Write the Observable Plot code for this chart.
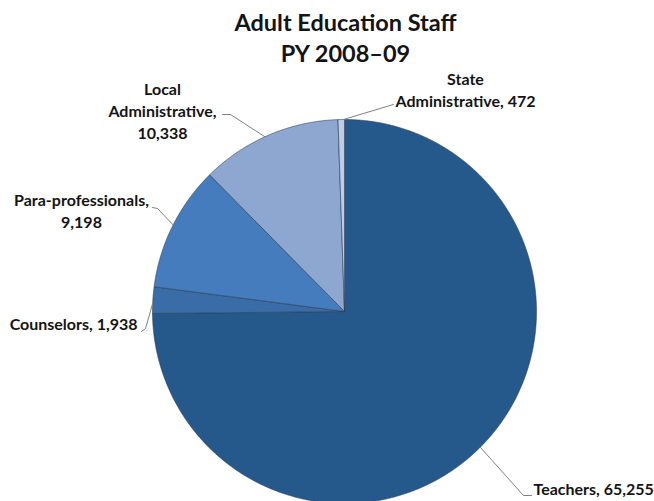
<!DOCTYPE html>
<html><head><meta charset="utf-8">
<script src="https://cdn.jsdelivr.net/npm/d3@7"></script>
<script src="https://cdn.jsdelivr.net/npm/@observablehq/plot@0.6"></script>
<style>
  body{margin:0;background:#fff}
  #chart{width:654px;height:501px;overflow:hidden}
</style>
</head><body><div id="chart"></div>
<script>
// ---- data ----
const categories = ["Teachers", "Counselors", "Para-professionals", "Local Administrative", "State Administrative"];
const staffCounts = [65255, 1938, 9198, 10338, 472];
const sliceColors = ["#26598b", "#3a6ca7", "#447cbe", "#8ea7d1", "#bfcce5"];
const labelLines = [
  ["Teachers, 65,255"],
  ["Counselors, 1,938"],
  ["Para-professionals,", "9,198"],
  ["Local", "Administrative,", "10,338"],
  ["State", "Administrative, 472"]
];
const titleLines = ["Adult Education Staff", "PY 2008\u201309"];

// ---- layout (pixels, relative to pie centre; dy downward) ----
const W = 654, H = 501, CX = 344, CY = 311, R = 192;
const labelLayout = [
  {rim: 135,   path: [[179, 184], [187, 184]],     at: [189, 183],  anchor: "start"},
  {rim: 272.4, path: [[-199, 17], [-203, 20]],     at: [-207, 18],  anchor: "end"},
  {rim: 296.8, path: [[-187, -103], [-192, -104]], at: [-263, -84], anchor: "middle"},
  {rim: 335.5, path: [[-114, -197], [-122, -197]], at: [-182, -173], anchor: "middle"},
  {rim: 359.7, path: [[49, -207]],                 at: [121, -205], anchor: "middle"}
];

const table = categories.map((name, i) => ({name, value: staffCounts[i]}));
const arcs = d3.pie().sort(null).value(d => d.value).startAngle(0).endAngle(2 * Math.PI)(table);

// slice outlines: centre -> arc -> centre
const slicePts = [];
for (const a of arcs) {
  const name = a.data.name;
  slicePts.push({name, x: 0, y: 0});
  const step = Math.PI / 720;
  for (let t = a.startAngle; t < a.endAngle; t += step) {
    slicePts.push({name, x: R * Math.sin(t), y: R * Math.cos(t)});
  }
  slicePts.push({name, x: R * Math.sin(a.endAngle), y: R * Math.cos(a.endAngle)});
  slicePts.push({name, x: 0, y: 0});
}

// leader lines
const leaderPts = [];
labelLayout.forEach((L, i) => {
  const t = L.rim * Math.PI / 180;
  leaderPts.push({name: categories[i], x: R * Math.sin(t), y: R * Math.cos(t)});
  for (const [dx, dy] of L.path) leaderPts.push({name: categories[i], x: dx, y: -dy});
});

const labelMarks = labelLayout.map((L, i) =>
  Plot.text([labelLines[i].join("\n")], {
    x: () => L.at[0], y: () => -L.at[1], text: d => d,
    textAnchor: L.anchor, lineAnchor: "bottom", lineHeight: 1.375,
    fontSize: 16, fontWeight: "bold", fill: "#141414"
  })
);

const chart = Plot.plot({
  width: W, height: H,
  marginTop: 0, marginRight: 0, marginBottom: 0, marginLeft: 0,
  style: {fontFamily: "Lato, 'Noto Sans', sans-serif", background: "#fff"},
  x: {domain: [-CX, W - CX], range: [0, W], axis: null},
  y: {domain: [-(H - CY), CY], range: [H, 0], axis: null},
  color: {domain: categories, range: sliceColors},
  marks: [
    Plot.line(slicePts, {x: "x", y: "y", z: "name", fill: "name", stroke: "#2b3d55", strokeWidth: 0.7, strokeOpacity: 0.85, strokeLinejoin: "round"}),
    Plot.line(leaderPts, {x: "x", y: "y", z: "name", stroke: "#808080", strokeWidth: 1}),
    ...labelMarks,
    Plot.text([titleLines.join("\n")], {
      x: () => 1, y: () => CY - 61, text: d => d,
      textAnchor: "middle", lineAnchor: "bottom", lineHeight: 1.28,
      fontSize: 23.5, fontWeight: "bold", fill: "#141414"
    })
  ]
});
document.getElementById("chart").appendChild(chart);
</script>
</body></html>
